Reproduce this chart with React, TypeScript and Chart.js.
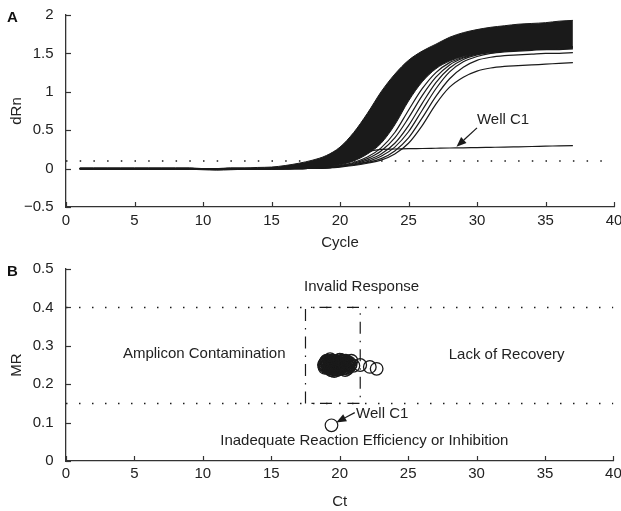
import React, { useEffect, useRef } from "react";
import { Chart, registerables } from "chart.js";

Chart.register(...registerables);

// ---------------- Panel A data ----------------
const cycles = [1, 2, 3, 4, 5, 6, 7, 8, 9, 10, 11, 12, 13, 14, 15, 16, 17, 18, 19, 20, 21, 22, 23, 24, 25, 26, 27, 28, 29, 30, 31, 32, 33, 34, 35, 36, 37];

// upper (earliest / highest) edge of the dense bundle of curves
const bandUpper = [0.01, 0.01, 0.01, 0.01, 0.01, 0.01, 0.01, 0.01, 0.01, 0.0, 0.0, 0.01, 0.01, 0.015, 0.02, 0.04, 0.07, 0.11, 0.17, 0.28, 0.47, 0.72, 1.0, 1.23, 1.41, 1.53, 1.62, 1.71, 1.77, 1.81, 1.84, 1.86, 1.88, 1.89, 1.9, 1.92, 1.93];
// lower (latest / lowest) edge of the dense bundle
const bandLower = [-0.01, -0.01, -0.01, -0.01, -0.01, -0.01, -0.01, -0.01, -0.01, -0.015, -0.02, -0.015, -0.01, -0.01, -0.01, -0.005, 0.0, 0.005, 0.02, 0.05, 0.1, 0.19, 0.33, 0.57, 0.88, 1.13, 1.3, 1.4, 1.46, 1.5, 1.52, 1.53, 1.54, 1.55, 1.55, 1.56, 1.57];

// late wells fanning out of the bundle
const lateWell1 = [0, 0, 0, 0, 0, 0, 0, 0, 0, 0, 0, 0, 0, 0, 0, 0, 0.005, 0.01, 0.02, 0.04, 0.08, 0.15, 0.27, 0.47, 0.76, 1.04, 1.25, 1.38, 1.45, 1.5, 1.53, 1.55, 1.56, 1.57, 1.58, 1.58, 1.59];
const lateWell2 = [0, 0, 0, 0, 0, 0, 0, 0, 0, 0, 0, 0, 0, 0, 0, 0, 0.005, 0.01, 0.02, 0.04, 0.07, 0.13, 0.23, 0.4, 0.66, 0.95, 1.19, 1.35, 1.44, 1.49, 1.52, 1.54, 1.55, 1.56, 1.57, 1.57, 1.58];
const lateWell3 = [0, 0, 0, 0, 0, 0, 0, 0, 0, 0, 0, 0, 0, 0, 0, 0, 0, 0.005, 0.01, 0.03, 0.06, 0.11, 0.19, 0.33, 0.56, 0.85, 1.12, 1.31, 1.42, 1.48, 1.51, 1.53, 1.54, 1.55, 1.56, 1.56, 1.57];
const lateWell4 = [0, 0, 0, 0, 0, 0, 0, 0, 0, 0, 0, 0, 0, 0, 0, 0, 0, 0.005, 0.01, 0.03, 0.05, 0.09, 0.16, 0.28, 0.48, 0.76, 1.04, 1.26, 1.39, 1.46, 1.5, 1.52, 1.53, 1.54, 1.55, 1.55, 1.56];
const lateWell5 = [0, 0, 0, 0, 0, 0, 0, 0, 0, 0, 0, 0, 0, 0, 0, 0, 0, 0.005, 0.01, 0.03, 0.05, 0.08, 0.13, 0.23, 0.4, 0.66, 0.94, 1.17, 1.32, 1.41, 1.45, 1.47, 1.48, 1.49, 1.5, 1.5, 1.51];
const lateWell6 = [0, 0, 0, 0, 0, 0, 0, 0, 0, 0, 0, 0, 0, 0, 0, 0, 0, 0.005, 0.01, 0.02, 0.04, 0.07, 0.11, 0.19, 0.33, 0.56, 0.84, 1.06, 1.19, 1.27, 1.31, 1.33, 1.34, 1.35, 1.36, 1.37, 1.38];
// Well C1 (low plateau)
const wellC1Curve = [0, 0, 0, 0, 0, 0, 0, 0, 0, 0, 0, 0, 0, 0, 0, 0, 0.005, 0.01, 0.03, 0.07, 0.15, 0.22, 0.25, 0.255, 0.26, 0.262, 0.265, 0.268, 0.27, 0.274, 0.277, 0.28, 0.284, 0.288, 0.292, 0.296, 0.3];

const thresholdA = 0.1;
const cycleTicks = [0, 5, 10, 15, 20, 25, 30, 35, 40];
const dRnTicks = [-0.5, 0, 0.5, 1, 1.5, 2];

// ---------------- Panel B data ----------------
const ctValues = [
  18.9, 19.0, 19.1, 19.2, 19.3, 19.4, 19.5, 19.6, 19.7, 19.8, 19.9, 20.0, 20.1, 20.2, 20.3, 20.4, 20.5, 20.6,
  18.95, 19.05, 19.15, 19.25, 19.35, 19.45, 19.55, 19.65, 19.75, 19.85, 19.95, 20.05, 20.15, 20.25, 20.35, 20.45, 20.55,
  19.0, 19.2, 19.4, 19.6, 19.8, 20.0, 20.2, 20.4, 20.6, 20.8,
  19.1, 19.3, 19.5, 19.7, 19.9, 20.1, 20.3,
  19.4, 19.8, 20.2,
  18.85, 18.9, 19.05, 19.25, 19.45, 19.65, 19.85, 20.05, 20.25, 20.45, 20.65, 20.7,
  18.95, 19.15, 19.35, 19.55, 19.75, 19.95, 20.15, 20.35, 20.55, 20.75,
  19.3, 19.6, 20.0, 20.4,
  20.85, 21.0, 21.5, 22.2, 22.7,
];
const mrValues = [
  0.252, 0.248, 0.255, 0.246, 0.258, 0.25, 0.244, 0.256, 0.249, 0.253, 0.247, 0.255, 0.25, 0.246, 0.252, 0.249, 0.254, 0.248,
  0.245, 0.257, 0.243, 0.253, 0.247, 0.259, 0.251, 0.242, 0.256, 0.249, 0.244, 0.258, 0.251, 0.247, 0.255, 0.243, 0.25,
  0.259, 0.241, 0.26, 0.238, 0.257, 0.24, 0.258, 0.242, 0.256, 0.251,
  0.25, 0.247, 0.252, 0.245, 0.254, 0.249, 0.251,
  0.236, 0.237, 0.262,
  0.25, 0.243, 0.261, 0.24, 0.262, 0.26, 0.239, 0.263, 0.241, 0.261, 0.245, 0.256,
  0.256, 0.25, 0.244, 0.252, 0.247, 0.251, 0.245, 0.26, 0.24, 0.248,
  0.265, 0.234, 0.264, 0.237,
  0.261, 0.248, 0.25, 0.245, 0.24,
];
const wellC1Ct = 19.4;
const wellC1MR = 0.093;

const mrUpperLimit = 0.4;
const mrLowerLimit = 0.15;
const ctLowerLimit = 17.5;
const ctUpperLimit = 21.5;
const ctTicks = [0, 5, 10, 15, 20, 25, 30, 35, 40];
const mrTicks = [0, 0.1, 0.2, 0.3, 0.4, 0.5];

// ---------------- styling ----------------
const FONT = "'Liberation Sans', Arial, Helvetica, sans-serif";
const INK = "#1a1a1a";
const AXIS = "#333333";
const TEXT = "#222222";
const W = 621;
const HA = 252;
const HB = 259;

const fmt = (v: number) => {
  const r = Math.round(v * 10) / 10;
  if (r === 0) return "0";
  return (r < 0 ? "\u2212" : "") + String(Math.abs(r));
};

type Note = { text: string; x: number; y: number; align?: CanvasTextAlign };
type Arrow = { x1: number; y1: number; x2: number; y2: number };

function makeDecor(letter: string, notes: Note[], arrows: Arrow[]) {
  return {
    id: "decor" + letter,
    afterDraw(chart: any) {
      const { ctx, scales } = chart;
      const xs = scales.x;
      const ys = scales.y;
      ctx.save();
      // inward tick marks
      ctx.strokeStyle = AXIS;
      ctx.lineWidth = 1.2;
      xs.ticks.forEach((t: any) => {
        const px = Math.round(xs.getPixelForValue(t.value)) + 0.5;
        ctx.beginPath();
        ctx.moveTo(px, xs.top);
        ctx.lineTo(px, xs.top - 5);
        ctx.stroke();
      });
      ys.ticks.forEach((t: any) => {
        const py = Math.round(ys.getPixelForValue(t.value)) + 0.5;
        ctx.beginPath();
        ctx.moveTo(ys.right, py);
        ctx.lineTo(ys.right + 5, py);
        ctx.stroke();
      });
      // notes
      ctx.fillStyle = TEXT;
      ctx.font = `15px ${FONT}`;
      ctx.textBaseline = "middle";
      notes.forEach((n) => {
        ctx.textAlign = n.align || "center";
        ctx.fillText(n.text, xs.getPixelForValue(n.x), ys.getPixelForValue(n.y));
      });
      // arrows
      ctx.strokeStyle = INK;
      ctx.fillStyle = INK;
      ctx.lineWidth = 1.2;
      arrows.forEach((a) => {
        const x1 = xs.getPixelForValue(a.x1);
        const y1 = ys.getPixelForValue(a.y1);
        const x2 = xs.getPixelForValue(a.x2);
        const y2 = ys.getPixelForValue(a.y2);
        const ang = Math.atan2(y2 - y1, x2 - x1);
        const L = 10;
        const hw = 4;
        const bx = x2 - L * Math.cos(ang);
        const by = y2 - L * Math.sin(ang);
        ctx.beginPath();
        ctx.moveTo(x1, y1);
        ctx.lineTo(bx, by);
        ctx.stroke();
        ctx.beginPath();
        ctx.moveTo(x2, y2);
        ctx.lineTo(bx + hw * Math.sin(ang), by - hw * Math.cos(ang));
        ctx.lineTo(bx - hw * Math.sin(ang), by + hw * Math.cos(ang));
        ctx.closePath();
        ctx.fill();
      });
      // panel letter
      ctx.fillStyle = "#111";
      ctx.font = `bold 15px ${FONT}`;
      ctx.textAlign = "center";
      ctx.fillText(letter, 12.5, chart.chartArea.top + 3);
      ctx.restore();
    },
  };
}

function xScale(title: string, canvasH: number, areaBottom: number, labelPad: number, ticks: number[]) {
  return {
    type: "linear",
    position: "bottom",
    min: ticks[0],
    max: ticks[ticks.length - 1],
    afterBuildTicks: (s: any) => {
      s.ticks = ticks.map((v) => ({ value: v }));
    },
    ticks: {
      color: TEXT,
      padding: labelPad,
      maxRotation: 0,
      autoSkip: false,
      font: { family: FONT, size: 15 },
      callback: (v: any) => fmt(Number(v)),
    },
    grid: { display: false, drawTicks: false },
    border: { display: true, color: AXIS, width: 1.3 },
    title: { display: true, text: title, color: TEXT, font: { family: FONT, size: 15 }, padding: { top: 0, bottom: 0 } },
    afterFit: (s: any) => {
      s.height = canvasH - areaBottom;
      s.paddingLeft = 0;
      s.paddingRight = 0;
    },
  };
}

function yScale(title: string, ticks: number[]) {
  return {
    type: "linear",
    position: "left",
    min: ticks[0],
    max: ticks[ticks.length - 1],
    afterBuildTicks: (s: any) => {
      s.ticks = ticks.map((v) => ({ value: v }));
    },
    ticks: {
      color: TEXT,
      padding: 12.5,
      autoSkip: false,
      font: { family: FONT, size: 15 },
      callback: (v: any) => fmt(Number(v)),
    },
    grid: { display: false, drawTicks: false },
    border: { display: true, color: AXIS, width: 1.3 },
    title: { display: true, text: title, color: TEXT, font: { family: FONT, size: 15 }, padding: { top: 8, bottom: 0 } },
    afterFit: (s: any) => {
      s.width = 66;
      s.paddingTop = 0;
      s.paddingBottom = 0;
    },
  };
}

const curve = (vals: number[]) => cycles.map((c, i) => ({ x: c, y: vals[i] }));

const lineDs = (vals: number[], extra: any = {}) => ({
  data: curve(vals),
  borderColor: INK,
  borderWidth: 1.2,
  pointRadius: 0,
  fill: false,
  cubicInterpolationMode: "monotone",
  ...extra,
});

export default function App() {
  const refA = useRef<HTMLCanvasElement | null>(null);
  const refB = useRef<HTMLCanvasElement | null>(null);

  useEffect(() => {
    const chartA = new Chart(refA.current as HTMLCanvasElement, {
      type: "line",
      data: {
        datasets: [
          lineDs(bandUpper, { fill: "+1", backgroundColor: INK, borderWidth: 1 }),
          lineDs(bandLower, { borderWidth: 1 }),
          lineDs(lateWell1),
          lineDs(lateWell2),
          lineDs(lateWell3),
          lineDs(lateWell4),
          lineDs(lateWell5),
          lineDs(lateWell6),
          lineDs(wellC1Curve),
          {
            data: [
              { x: cycleTicks[0], y: thresholdA },
              { x: cycleTicks[cycleTicks.length - 1], y: thresholdA },
            ],
            borderColor: INK,
            borderWidth: 1.5,
            borderDash: [1.5, 12.2],
            pointRadius: 0,
            fill: false,
          },
        ] as any,
      },
      options: {
        responsive: false,
        animation: false,
        events: [],
        layout: { padding: { left: 0, right: 7, top: 15, bottom: 0 } },
        plugins: { legend: { display: false }, tooltip: { enabled: false } },
        scales: {
          x: xScale("Cycle", HA, 207, 5, cycleTicks) as any,
          y: yScale("dRn", dRnTicks) as any,
        },
      },
      plugins: [
        makeDecor(
          "A",
          [{ text: "Well C1", x: 31.9, y: 0.64 }],
          [{ x1: 30.0, y1: 0.53, x2: 28.5, y2: 0.285 }]
        ),
      ],
    });

    const cluster = ctValues.map((c, i) => ({ x: c, y: mrValues[i] }));
    const chartB = new Chart(refB.current as HTMLCanvasElement, {
      type: "scatter",
      data: {
        datasets: [
          {
            data: cluster,
            pointRadius: 6.3,
            pointBorderColor: INK,
            pointBackgroundColor: "rgba(0,0,0,0)",
            pointBorderWidth: 1.3,
            showLine: false,
          },
          {
            data: [{ x: wellC1Ct, y: wellC1MR }],
            pointRadius: 6.3,
            pointBorderColor: INK,
            pointBackgroundColor: "rgba(0,0,0,0)",
            pointBorderWidth: 1.2,
            showLine: false,
          },
          {
            data: [
              { x: ctTicks[0], y: mrUpperLimit },
              { x: ctTicks[ctTicks.length - 1], y: mrUpperLimit },
            ],
            showLine: true,
            borderColor: INK,
            borderWidth: 1.5,
            borderDash: [1.5, 11.5],
            pointRadius: 0,
          },
          {
            data: [
              { x: ctTicks[0], y: mrLowerLimit },
              { x: ctTicks[ctTicks.length - 1], y: mrLowerLimit },
            ],
            showLine: true,
            borderColor: INK,
            borderWidth: 1.5,
            borderDash: [1.5, 11.5],
            pointRadius: 0,
          },
          {
            data: [
              { x: ctLowerLimit, y: mrLowerLimit },
              { x: ctLowerLimit, y: mrUpperLimit },
              { x: ctUpperLimit, y: mrUpperLimit },
              { x: ctUpperLimit, y: mrLowerLimit },
              { x: ctLowerLimit, y: mrLowerLimit },
            ],
            showLine: true,
            borderColor: INK,
            borderWidth: 1.2,
            borderDash: [12, 7, 1.5, 7],
            pointRadius: 0,
          },
        ] as any,
      },
      options: {
        responsive: false,
        animation: false,
        events: [],
        layout: { padding: { left: 0, right: 7, top: 17, bottom: 0 } },
        plugins: { legend: { display: false }, tooltip: { enabled: false } },
        scales: {
          x: xScale("Ct", HB, 209, 3.5, ctTicks) as any,
          y: yScale("MR", mrTicks) as any,
        },
      },
      plugins: [
        makeDecor(
          "B",
          [
            { text: "Invalid Response", x: 21.6, y: 0.453 },
            { text: "Amplicon Contamination", x: 10.1, y: 0.279 },
            { text: "Lack of Recovery", x: 32.2, y: 0.276 },
            { text: "Inadequate Reaction Efficiency or Inhibition", x: 21.8, y: 0.053 },
            { text: "Well C1", x: 21.2, y: 0.124, align: "left" },
          ],
          [{ x1: 21.1, y1: 0.126, x2: 19.75, y2: 0.1 }]
        ),
      ],
    });

    return () => {
      chartA.destroy();
      chartB.destroy();
    };
  }, []);

  return (
    <div style={{ position: "fixed", left: 0, top: 0, width: W, height: HA + HB, background: "#fff" }}>
      <canvas ref={refA} width={W} height={HA} style={{ display: "block", width: W, height: HA }} />
      <canvas ref={refB} width={W} height={HB} style={{ display: "block", width: W, height: HB }} />
    </div>
  );
}
